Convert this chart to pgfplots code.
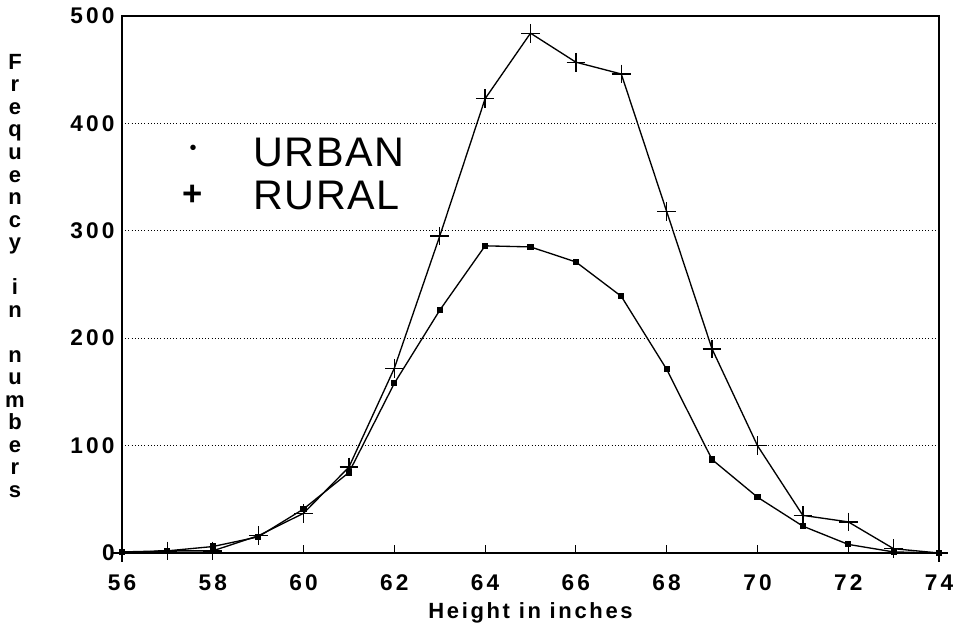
\documentclass[border=0pt]{standalone}
\usepackage{fontspec}
\setmainfont{Liberation Sans}
\newfontfamily\tickf[LetterSpace=14]{Liberation Sans}
\newfontfamily\labf[LetterSpace=12]{Liberation Sans}
\newfontfamily\legf[LetterSpace=4]{Liberation Sans}
\usepackage{pgfplots}
\pgfplotsset{compat=1.18}
\pgfplotstableread{
x urban rural
56 1 0
57 2 2
58 6 2
59 15 16
60 41 37
61 75 80
62 158 172
63 226 295
64 286 423
65 285 484
66 271 457
67 239 446
68 171 318
69 87 190
70 52 100
71 25 35
72 8 29
73 1 4
74 0 0
}\datatable
\begin{document}
\begin{tikzpicture}[x=0.75pt,y=0.75pt]
\useasboundingbox (0,0) rectangle (954,628);
\begin{axis}[
  at={(91.5pt,56.25pt)}, anchor=south west, scale only axis,
  width=612.75pt, height=402.75pt,
  xmin=56, xmax=74, ymin=0, ymax=500,
  xtick={56,58,...,74}, ytick={0,100,...,500},
  tick align=inside, major tick length=6pt,
  xtick pos=bottom, ytick pos=left,
  ytick style={draw=none},
  xtick style={black, line width=0.9pt},
  ymajorgrids, grid style={black, dotted, line width=0.9pt},
  axis line style={black, line width=1.1pt},
  tick label style={font=\tickf\bfseries\fontsize{17}{17}\selectfont},
  xticklabel style={yshift=-13pt},
  yticklabel style={xshift=-2pt},
  /pgf/number format/assume math mode=true,
  clip=false,
]
\addplot[black, line width=1pt, mark=square*, mark size=1.8pt, mark options={solid}] table[x=x, y=urban] {\datatable};
\addplot[black, line width=1pt, mark=+, mark size=7pt, mark options={solid, line width=1pt}] table[x=x, y=rural] {\datatable};
\end{axis}
% axis title texts
\node[font=\labf\bfseries\fontsize{16.5}{16.5}\selectfont, anchor=base] at (530.5,9) {Height in inches};
\node[align=center, font=\tickf\bfseries\fontsize{16.5}{16.9}\selectfont, inner sep=0pt] at (15,352) {F\\r\\e\\q\\u\\e\\n\\c\\y\\[16.9pt]i\\n\\[16.9pt]n\\u\\m\\b\\e\\r\\s};
% legend
\node[font=\fontsize{15}{15}\selectfont, inner sep=0pt] at (193,478) {\textbullet};
\node[font=\bfseries\fontsize{26}{26}\selectfont, inner sep=0pt] at (193,433) {+};
\node[font=\legf\fontsize{31}{31}\selectfont, anchor=base west, inner sep=0pt] at (253,461) {URBAN};
\node[font=\legf\fontsize{31}{31}\selectfont, anchor=base west, inner sep=0pt] at (253,418) {RURAL};
\end{tikzpicture}
\end{document}
